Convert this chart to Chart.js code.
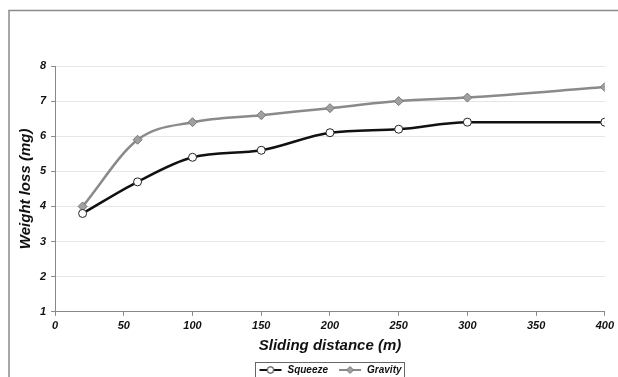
<!DOCTYPE html>
<html>
<head>
<meta charset="utf-8">
<script src="https://cdn.jsdelivr.net/npm/chart.js@4/dist/chart.umd.min.js"></script>
<style>
  html,body{margin:0;padding:0;background:#fff}
  #wrap{width:618px;height:377px;position:relative}
</style>
</head>
<body>
<div id="wrap"><canvas id="chart" width="618" height="377"></canvas></div>
<script>
const distances = [20, 60, 100, 150, 200, 250, 300, 400];
const squeeze = [3.8, 4.7, 5.4, 5.6, 6.1, 6.2, 6.4, 6.4];
const gravity = [4.0, 5.9, 6.4, 6.6, 6.8, 7.0, 7.1, 7.4];
const seriesNames = ["Squeeze", "Gravity"];

const FONT = "'Liberation Sans', Arial, sans-serif";

function legendIcon(lineColor, fill, stroke, diamond){
  const c = document.createElement("canvas");
  c.width = 24; c.height = 10;
  const g = c.getContext("2d");
  g.strokeStyle = lineColor; g.lineWidth = 2;
  g.beginPath(); g.moveTo(1,5); g.lineTo(23,5); g.stroke();
  g.fillStyle = fill; g.strokeStyle = stroke; g.lineWidth = 1;
  g.beginPath();
  if(diamond){ g.moveTo(12,1.5); g.lineTo(15.5,5); g.lineTo(12,8.5); g.lineTo(8.5,5); g.closePath(); }
  else g.arc(12,5,3.3,0,Math.PI*2);
  g.fill(); g.stroke();
  return c;
}

// legend in the reference sits a bit right of centre
const LEGEND_SHIFT = 17;

const framePlugin = {
  id:"frame",
  afterLayout(chart){
    const lg = chart.legend;
    if(!lg) return;
    lg.left += LEGEND_SHIFT; lg.right += LEGEND_SHIFT;
    lg.legendHitBoxes.forEach(b => b.left += LEGEND_SHIFT);
  },
  beforeDraw(chart){
    const g = chart.ctx;
    g.save();
    g.strokeStyle = "#8a8a8a"; g.lineWidth = 1.5;
    g.beginPath(); g.moveTo(9,377); g.lineTo(9,10.5); g.lineTo(618,10.5); g.stroke();
    g.restore();
  },
  afterDraw(chart){
    const lg = chart.legend;
    if(!lg || !lg.legendHitBoxes.length) return;
    const boxes = lg.legendHitBoxes;
    const last = boxes[boxes.length-1];
    const x0 = boxes[0].left - 3, x1 = last.left + last.width + 3;
    const y0 = boxes[0].top - 3;
    const g = chart.ctx;
    g.save();
    g.strokeStyle = "#666"; g.lineWidth = 1;
    g.strokeRect(Math.round(x0)+0.5, Math.round(y0)+0.5, Math.round(x1-x0), 20);
    g.restore();
  }
};

new Chart(document.getElementById("chart"), {
  type:"line",
  data:{
    datasets:[
      {
        label: seriesNames[0],
        data: distances.map((d,i)=>({x:d, y:squeeze[i]})),
        borderColor:"#111", borderWidth:2.5,
        pointStyle:"circle", pointRadius:4, pointBackgroundColor:"#fff",
        pointBorderColor:"#222", pointBorderWidth:1,
        cubicInterpolationMode:"monotone", fill:false
      },
      {
        label: seriesNames[1],
        data: distances.map((d,i)=>({x:d, y:gravity[i]})),
        borderColor:"#8a8a8a", borderWidth:2.5,
        pointStyle:"rectRot", pointRadius:4.5, pointBackgroundColor:"#a0a0a0",
        pointBorderColor:"#777", pointBorderWidth:1,
        cubicInterpolationMode:"monotone", fill:false
      }
    ]
  },
  options:{
    responsive:false, animation:false,
    layout:{ padding:{ top:66, right:9, left:17, bottom:-8 } },
    plugins:{
      legend:{
        position:"bottom",
        labels:{
          usePointStyle:true, pointStyleWidth:24,
          font:{ family:FONT, size:10, style:"italic", weight:"bold" },
          color:"#111",
          padding:10,
          generateLabels(chart){
            return [
              { text:seriesNames[0], pointStyle:legendIcon("#111","#fff","#222",false), datasetIndex:0, fontColor:"#111", lineWidth:0, strokeStyle:"transparent", fillStyle:"transparent" },
              { text:seriesNames[1], pointStyle:legendIcon("#8a8a8a","#a0a0a0","#777",true), datasetIndex:1, fontColor:"#111", lineWidth:0, strokeStyle:"transparent", fillStyle:"transparent" }
            ];
          }
        }
      },
      tooltip:{ enabled:false }
    },
    scales:{
      x:{
        type:"linear", min:0, max:400,
        ticks:{ stepSize:50, color:"#111", font:{ family:FONT, size:11, style:"italic", weight:"bold" }, padding:4 },
        grid:{ display:true, drawOnChartArea:false, drawTicks:true, tickLength:4, color:"#888" },
        border:{ color:"#888", width:1 },
        title:{ display:true, text:"Sliding distance (m)", color:"#111", font:{ family:FONT, size:15, style:"italic", weight:"bold" }, padding:{top:0,bottom:0} }
      },
      y:{
        min:1, max:8,
        ticks:{ stepSize:1, color:"#111", font:{ family:FONT, size:11, style:"italic", weight:"bold" }, padding:5 },
        grid:{ color:"#e6e6e6", tickLength:4, tickColor:"#888" },
        border:{ color:"#888", width:1 },
        title:{ display:true, text:"Weight loss (mg)", color:"#111", font:{ family:FONT, size:15, style:"italic", weight:"bold" }, padding:{top:0,bottom:0} }
      }
    }
  },
  plugins:[framePlugin]
});
</script>
</body>
</html>
